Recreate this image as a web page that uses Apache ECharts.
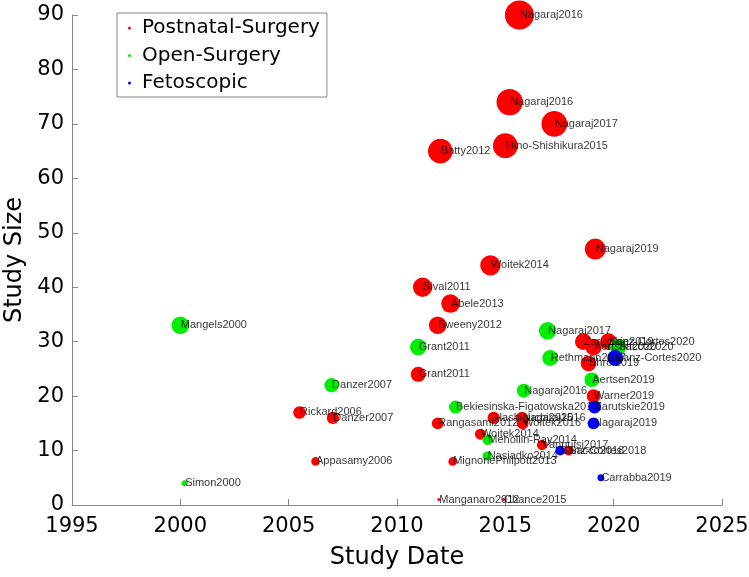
<!DOCTYPE html>
<html>
<head>
<meta charset="utf-8">
<script src="https://cdn.jsdelivr.net/npm/echarts@6/dist/echarts.min.js"></script>
<style>
html,body{margin:0;padding:0;background:#fff;}
#chart{width:749px;height:577px;}
</style>
</head>
<body>
<div id="chart"></div>
<script>
// ---- data ----
const postnatalNames = ["Nagaraj2016","Nagaraj2016","Nagaraj2017","Hino-Shishikura2015","Batty2012","Nagaraj2019","Woitek2014","Sival2011","Abele2013","Sweeny2012","Zarutskie2019","Sanz-Cortes2020","Aertsen2020","Shroi2019","Grant2011","Warner2019","Rickard2006","Danzer2007","Hashiguchi2015","Nagaraj2016","Rangasami2012","Woitek2016","Woitek2014","Vannuisi2017","Sacco2018","Appasamy2006","MignonePhilpott2013","Manganaro2012","Chance2015"];
const postnatalDates = [2015.65,2015.2,2017.26,2015.0,2012.0,2019.15,2014.31,2011.18,2012.47,2011.88,2018.6,2019.76,2019.07,2018.84,2010.98,2019.07,2005.5,2007.04,2014.46,2015.77,2011.88,2015.8,2013.85,2016.69,2017.92,2006.24,2012.57,2011.93,2014.92];
const postnatalSizes = [90,74,70,66,65,47,44,40,37,33,30,30,29,26,24,20,17,16,16,16,15,15,13,11,10,8,8,1,1];

const openNames = ["Mangels2000","Nagaraj2017","Grant2011","Sacco2020","Rethmann2017","Aertsen2019","Danzer2007","Nagaraj2016","Bekiesinska-Figatowska2015","Mehollin-Ray2014","Nasiadko2014","Simon2000"];
const openDates = [2000.0,2016.95,2010.98,2020.2,2017.07,2018.99,2006.98,2015.85,2012.7,2014.19,2014.16,2000.2];
const openSizes = [33,32,29,29,27,23,22,21,18,12,9,4];

const fetoNames = ["Sanz-Cortes2020","Zarutskie2019","Nagaraj2019","Sanz-Cortes2018","Carrabba2019"];
const fetoDates = [2020.07,2019.12,2019.07,2017.53,2019.41];
const fetoSizes = [27,18,15,10,5];

const groupNames = ["Postnatal-Surgery","Open-Surgery","Fetoscopic"];
const xTicks = [1995,2000,2005,2010,2015,2020,2025];
const yTicks = [0,10,20,30,40,50,60,70,80,90];

// ---- build ----
function pts(dates, sizes, names){
  return dates.map((d,i)=>({value:[d,sizes[i]], name:names[i]}));
}
const groups = [
  {name:groupNames[0], color:'#ff0000', data:pts(postnatalDates,postnatalSizes,postnatalNames)},
  {name:groupNames[1], color:'#00ee00', data:pts(openDates,openSizes,openNames)},
  {name:groupNames[2], color:'#0000ff', data:pts(fetoDates,fetoSizes,fetoNames)}
];
const AXFONT = '"DejaVu Sans", sans-serif';
const LBFONT = '"Liberation Sans", Arial, Helvetica, sans-serif';
const series = groups.map((g,k)=>({
  name:g.name, type:'scatter', data:g.data, z:2+k*0.1,
  symbol:'circle',
  symbolSize:(v)=>3.06*Math.sqrt(v[1]),
  itemStyle:{color:g.color, opacity:1},
  emphasis:{disabled:true}
}));
const allLabels = [].concat(...groups.map(g=>g.data));
series.push({
  name:'labels', type:'scatter', data:allLabels, z:5, symbolSize:1,
  itemStyle:{color:'rgba(0,0,0,0)'}, silent:true,
  label:{show:true, position:'right', distance:0, formatter:(p)=>p.name,
    color:'#000', fontSize:11, fontFamily:LBFONT}
});

const axisCommon = {
  axisLine:{show:true, lineStyle:{color:'#888', width:1}},
  axisTick:{show:true, inside:true, length:6, lineStyle:{color:'#888'}},
  splitLine:{show:false},
  axisLabel:{color:'#000', fontSize:21, fontFamily:AXFONT, formatter:(v)=>String(v)},
  nameTextStyle:{color:'#000', fontSize:24, fontFamily:AXFONT}
};

const option = {
  animation:false,
  backgroundColor:'#fff',
  grid:{left:72, right:27, top:15, bottom:72, outerBoundsMode:'none', containLabel:false},
  legend:{
    data:groupNames, orient:'vertical', left:117, top:13,
    icon:'circle', itemWidth:3, itemHeight:3, itemGap:3.5,
    padding:[3,7,2,11],
    borderColor:'#888', borderWidth:1, backgroundColor:'#fff',
    textStyle:{color:'#000', fontSize:20, fontFamily:AXFONT, lineHeight:24, padding:[0,0,0,6]}
  },
  xAxis:Object.assign({}, axisCommon, {
    type:'value', min:xTicks[0], max:xTicks[xTicks.length-1], interval:5,
    name:'Study Date', nameLocation:'middle', nameGap:41,
    axisLabel:Object.assign({}, axisCommon.axisLabel, {margin:11})
  }),
  yAxis:Object.assign({}, axisCommon, {
    type:'value', min:yTicks[0], max:yTicks[yTicks.length-1], interval:10,
    name:'Study Size', nameLocation:'middle', nameGap:44,
    axisLabel:Object.assign({}, axisCommon.axisLabel, {margin:8})
  }),
  series:series
};
const chart = echarts.init(document.getElementById('chart'), null, {renderer:'canvas'});
chart.setOption(option);
</script>
</body>
</html>
